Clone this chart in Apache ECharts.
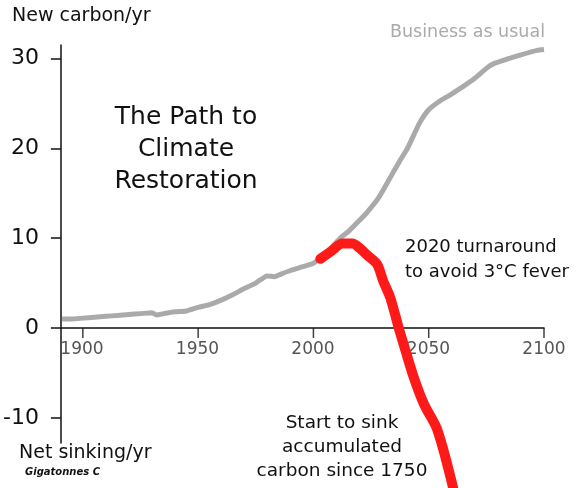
<!DOCTYPE html>
<html>
<head>
<meta charset="utf-8">
<title>The Path to Climate Restoration</title>
<script src="https://cdn.jsdelivr.net/npm/echarts@6/dist/echarts.min.js"></script>
<style>
  html, body { margin: 0; padding: 0; background: #fff; }
  #chart { width: 573px; height: 488px; }
</style>
</head>
<body>
<div id="chart"></div>
<script>
// axis ranges / ticks
var yearMin = 1890.5, yearMax = 2100;
var yearTickStart = 1900, yearTickStep = 50;
var xTicks = [1900, 1950, 2000, 2050, 2100];
var yTicks = [-10, 0, 10, 20, 30];

// business as usual (grey)
var bauYears = [1891, 1895, 1900, 1905, 1910, 1915, 1920, 1925, 1930, 1932, 1935, 1940, 1945,
  1950, 1955, 1960, 1965, 1970, 1975, 1980, 1983, 1985, 1990, 1995, 2000, 2003, 2008, 2012,
  2015, 2020, 2023, 2028, 2033, 2037, 2041, 2046, 2050, 2055, 2059, 2065, 2070, 2075, 2078,
  2085, 2090, 2097, 2100];
var bauValues = [1.0, 1.0, 1.1, 1.2, 1.3, 1.4, 1.5, 1.6, 1.7, 1.45, 1.6, 1.8, 1.9,
  2.3, 2.6, 3.1, 3.7, 4.4, 5.0, 5.8, 5.7, 5.9, 6.4, 6.8, 7.2, 7.8, 9.0, 10.1,
  10.7, 12.0, 12.8, 14.4, 16.6, 18.4, 20.1, 22.8, 24.3, 25.3, 25.9, 26.9, 27.8, 28.9, 29.4,
  30.0, 30.4, 30.9, 31.0];

// restoration path (red)
var pathYears = [2003, 2008, 2012.6, 2016.9, 2020, 2023.4, 2027.6, 2030.3, 2033.3, 2036.9, 2039.8, 2043.4, 2048, 2053.7, 2060.6];
var pathValues = [7.7, 8.6, 9.4, 9.4, 8.9, 8.1, 7.1, 5.2, 3.4, 0.1, -2.4, -5.4, -8.5, -11.3, -17.8];

function pairs(xs, ys) {
  return xs.map(function (x, i) { return [x, ys[i]]; });
}

var font = "'DejaVu Sans', sans-serif";
var axisColor = "#111";
var plotLeft = 60, plotRight = 29;
var plotWidth = 573 - plotLeft - plotRight;
// left edge of the label grid so that its min (1900) lines up with the plot's year scale
var tickLeft = plotLeft + (yearTickStart - yearMin) / (yearMax - yearMin) * plotWidth;

var chart = echarts.init(document.getElementById("chart"));
chart.setOption({
  animation: false,
  grid: [
    // plot area, full height of the y axis
    { left: plotLeft, right: plotRight, top: 45, bottom: 45 },
    // bottom edge at y = 0 : carries the year labels
    { left: tickLeft, right: plotRight, top: 45, bottom: 160 },
  ],
  xAxis: [
    {
      type: "value",
      gridIndex: 0,
      min: yearMin,
      max: yearMax,
      splitLine: { show: false },
      axisLine: { onZero: true, lineStyle: { color: axisColor, width: 1.5 } },
      axisTick: { show: false },
      axisLabel: { show: false },
    },
    {
      type: "value",
      gridIndex: 1,
      min: yearTickStart,
      max: yearMax,
      interval: yearTickStep,
      splitLine: { show: false },
      axisLine: { show: false, onZero: false },
      axisTick: { show: false },
      axisLabel: {
        formatter: function (v) { return String(v); },
        margin: 13,
        fontFamily: font,
        fontSize: 17,
        color: "#555",
      },
    },
  ],
  yAxis: [
    {
      type: "value",
      gridIndex: 0,
      min: -12.8,
      max: 31.5,
      splitLine: { show: false },
      axisLine: { show: true, onZero: false, lineStyle: { color: axisColor, width: 1.5 } },
      axisTick: { show: true, length: 10, customValues: yTicks, lineStyle: { color: axisColor, width: 1.5 } },
      axisLabel: {
        customValues: yTicks,
        margin: 22,
        fontFamily: font,
        fontSize: 22,
        color: "#111",
      },
    },
    { type: "value", gridIndex: 1, min: 0, max: 31.5, show: false },
  ],
  graphic: [
    { type: "text", left: 12, top: 7, style: { text: "New carbon/yr", font: "19px " + font, fill: "#111" } },
    { type: "text", left: 19, top: 444, style: { text: "Net sinking/yr", font: "19px " + font, fill: "#111" } },
    { type: "text", left: 25, top: 467, style: { text: "Gigatonnes C", font: "italic bold 10px " + font, fill: "#111" } },
    {
      type: "text", x: 186, y: 101,
      style: {
        text: "The Path to\nClimate\nRestoration",
        font: "25px " + font, fill: "#111", align: "center", lineHeight: 32,
      },
    },
    { type: "text", x: 545, y: 23, style: { text: "Business as usual", font: "17.5px " + font, fill: "#aaa", align: "right" } },
    {
      type: "text", x: 405, y: 235,
      style: { text: "2020 turnaround\nto avoid 3°C fever", font: "18px " + font, fill: "#111", lineHeight: 25 },
    },
    {
      type: "text", x: 342, y: 411,
      style: {
        text: "Start to sink\naccumulated\ncarbon since 1750",
        font: "18.5px " + font, fill: "#111", align: "center", lineHeight: 24,
      },
    },
  ],
  series: [
    {
      type: "line",
      xAxisIndex: 0,
      yAxisIndex: 0,
      data: pairs(bauYears, bauValues),
      showSymbol: false,
      smooth: 0.2,
      lineStyle: { color: "#aaaaaa", width: 5 },
      z: 3,
    },
    {
      type: "line",
      xAxisIndex: 0,
      yAxisIndex: 0,
      data: pairs(pathYears, pathValues),
      showSymbol: false,
      smooth: 0.3,
      clip: false,
      lineStyle: { color: "#ff1a1a", width: 10, cap: "round" },
      z: 4,
    },
    {
      // year ticks hanging below the zero line
      type: "scatter",
      xAxisIndex: 0,
      yAxisIndex: 0,
      data: xTicks.map(function (y) { return [y, 0]; }),
      symbol: "rect",
      symbolSize: [1.5, 10],
      symbolOffset: [0, 5],
      itemStyle: { color: axisColor },
      silent: true,
      clip: false,
      z: 2,
    },
  ],
});
</script>
</body>
</html>
